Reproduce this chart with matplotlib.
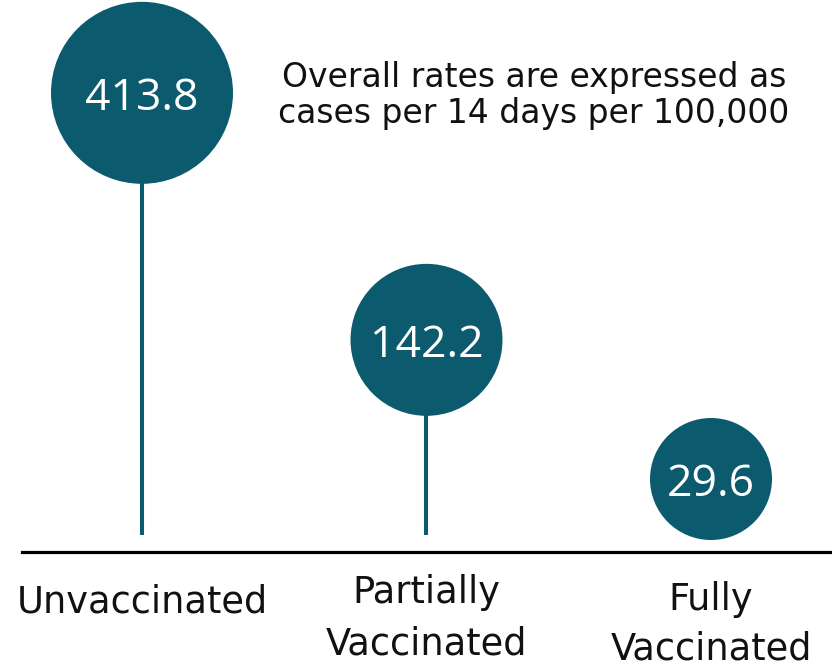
import matplotlib.pyplot as plt
import numpy as np

# data
groups = ['Unvaccinated', 'Partially\nVaccinated', 'Fully\nVaccinated']
rates = [413.8, 142.2, 29.6]
note = 'Overall rates are expressed as\ncases per 14 days per 100,000'

# style
teal = '#0c5a6d'
radii_px = [91, 76, 61]          # bubble radius in pixels
dpi = 100
POW = 0.75


def fwd(v):
    v = np.asarray(v, dtype=float)
    return np.sign(v) * np.abs(v) ** POW


def inv(t):
    t = np.asarray(t, dtype=float)
    return np.sign(t) * np.abs(t) ** (1 / POW)


plt.rcParams['font.family'] = ['DejaVu Sans']

fig = plt.figure(figsize=(8.32, 6.66), dpi=dpi)
ax = fig.add_axes([0, 0, 1, 1])
ax.set_yscale('function', functions=(fwd, inv))
ax.set_xlim(-0.4991, 2.4253)
ax.set_ylim(float(inv(-25.59)), float(inv(110.75)))
ax.axis('off')

x = np.arange(len(rates))
stem_bottom = float(inv(1.228))
baseline = float(inv(-2.252))

ax.vlines(x, stem_bottom, rates, color=teal, lw=2.9, zorder=1)
sizes = [(2 * r * 72 / dpi) ** 2 for r in radii_px]
ax.scatter(x, rates, s=sizes, color=teal, edgecolors='none', zorder=2)

for xi, v in zip(x, rates):
    ax.text(xi, v, f'{v}', color='white', fontsize=32, family='Open Sans',
            ha='center', va='center_baseline', zorder=3)

ax.axhline(baseline, xmin=22 / 832, xmax=1, color='black', lw=2.3)

# category labels under the baseline, one text per line
line_y = [[0.0796], [0.0946, 0.0180], [0.0841, 0.0105]]
trans = ax.get_xaxis_transform()
for xi, lab, ys in zip(x, groups, line_y):
    for part, ly in zip(lab.split('\n'), ys):
        ax.text(xi, ly, part, transform=trans, fontsize=26.5,
                ha='center', va='baseline', color='#111111')

for part, ly in zip(note.split('\n'), [0.8694, 0.8153]):
    ax.text(1.378, ly, part, transform=trans, fontsize=23.8,
            ha='center', va='baseline', color='#111111')

fig.savefig('out.png', dpi=dpi)
